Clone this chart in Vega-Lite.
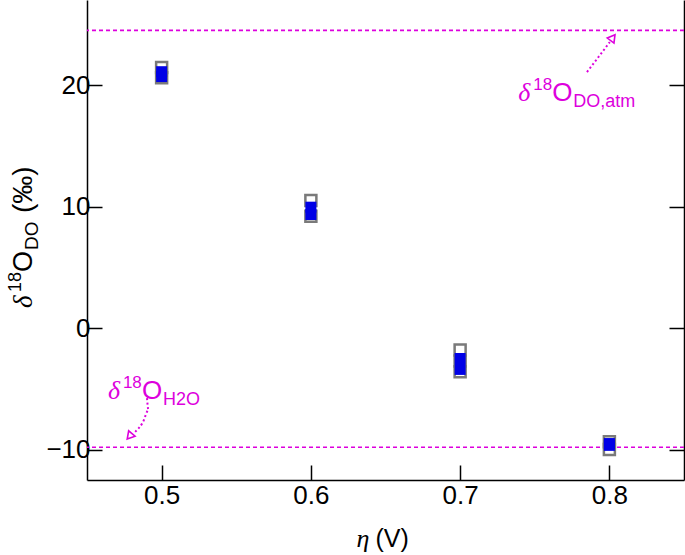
{
  "$schema": "https://vega.github.io/schema/vega-lite/v6.json",
  "width": 597,
  "height": 480,
  "autosize": {"type": "none"},
  "padding": {"left": 87, "top": 0, "right": 1, "bottom": 75},
  "background": "white",
  "config": {
    "view": {"stroke": null},
    "axis": {
      "domainColor": "black", "domainWidth": 1.5,
      "tickColor": "black", "tickWidth": 1.5, "tickSize": -15,
      "labelFont": "Liberation Sans", "labelFontSize": 26, "labelColor": "black",
      "grid": false, "title": null
    }
  },
  "datasets": {
    "grey": [
      {"eta": 0.5, "d": 21.45}, {"eta": 0.5, "d": 20.6},
      {"eta": 0.6, "d": 10.5}, {"eta": 0.6, "d": 9.2},
      {"eta": 0.7, "d": -1.8}, {"eta": 0.7, "d": -2.7}, {"eta": 0.7, "d": -3.6},
      {"eta": 0.8, "d": -9.35}, {"eta": 0.8, "d": -10.0}
    ],
    "blue": [
      {"eta": 0.5, "d": 21.1}, {"eta": 0.5, "d": 20.7},
      {"eta": 0.6, "d": 9.95}, {"eta": 0.6, "d": 9.35},
      {"eta": 0.7, "d": -2.5}, {"eta": 0.7, "d": -3.4},
      {"eta": 0.8, "d": -9.5}, {"eta": 0.8, "d": -9.65}
    ],
    "refs": [{"d": 24.5}, {"d": -9.8}],
    "arrowTop": [
      {"x": 0.785, "y": 21.07, "o": 0}, {"x": 0.7937, "y": 22.47, "o": 1}, {"x": 0.8003, "y": 23.54, "o": 2}
    ],
    "arrowBot": [
      {"x": 0.4902, "y": -5.76, "o": 0}, {"x": 0.4912, "y": -6.75, "o": 1}, {"x": 0.4875, "y": -7.74, "o": 2}, {"x": 0.4821, "y": -8.56, "o": 3}
    ],
    "heads": [
      {"x": 0.8023, "y": 23.9, "ang": 37}, {"x": 0.4785, "y": -8.9, "ang": 220}
    ],
    "one": [{}]
  },
  "resolve": {"axis": {"y": "independent"}},
  "layer": [
    {
      "data": {"name": "refs"},
      "mark": {"type": "rule", "color": "#dd00dd", "strokeWidth": 1.6, "strokeDash": [4, 3]},
      "encoding": {
        "y": {"field": "d", "type": "quantitative",
              "scale": {"domain": [-12.5, 27], "nice": false, "zero": false},
              "axis": {"orient": "left", "values": [-10, 0, 10, 20], "labelPadding": 12}}
      }
    },
    {
      "data": {"name": "grey"},
      "mark": {"type": "point", "shape": "square", "filled": false, "fill": "white", "stroke": "#7a7a7a", "strokeWidth": 2.5, "size": 121, "opacity": 1},
      "encoding": {
        "x": {"field": "eta", "type": "quantitative",
              "scale": {"domain": [0.45, 0.85], "nice": false, "zero": false},
              "axis": {"values": [0.5, 0.6, 0.7, 0.8], "format": ".1f", "labelPadding": 17}},
        "y": {"field": "d", "type": "quantitative",
              "scale": {"domain": [-12.5, 27], "nice": false, "zero": false},
              "axis": null}
      }
    },
    {
      "data": {"name": "blue"},
      "mark": {"type": "point", "shape": "square", "filled": true, "color": "#0000e6", "size": 121, "opacity": 1},
      "encoding": {
        "x": {"field": "eta", "type": "quantitative"},
        "y": {"field": "d", "type": "quantitative",
              "scale": {"domain": [-12.5, 27], "nice": false, "zero": false},
              "axis": {"orient": "right", "labels": false, "values": [-10, 0, 10, 20]}}
      }
    },
    {
      "data": {"name": "arrowTop"},
      "mark": {"type": "line", "color": "#dd00dd", "strokeWidth": 2, "strokeDash": [2, 2.5]},
      "encoding": {
        "x": {"field": "x", "type": "quantitative"},
        "y": {"field": "y", "type": "quantitative", "scale": {"domain": [-12.5, 27], "nice": false, "zero": false}, "axis": null},
        "order": {"field": "o"}
      }
    },
    {
      "data": {"name": "arrowBot"},
      "mark": {"type": "line", "color": "#dd00dd", "strokeWidth": 2, "strokeDash": [2, 2.5], "interpolate": "monotone"},
      "encoding": {
        "x": {"field": "x", "type": "quantitative"},
        "y": {"field": "y", "type": "quantitative", "scale": {"domain": [-12.5, 27], "nice": false, "zero": false}, "axis": null},
        "order": {"field": "o"}
      }
    },
    {
      "data": {"name": "heads"},
      "mark": {"type": "point", "shape": "triangle-up", "filled": false, "stroke": "#dd00dd", "strokeWidth": 1.6, "size": 70, "opacity": 1},
      "encoding": {
        "x": {"field": "x", "type": "quantitative"},
        "y": {"field": "y", "type": "quantitative", "scale": {"domain": [-12.5, 27], "nice": false, "zero": false}, "axis": null},
        "angle": {"field": "ang", "type": "quantitative", "scale": null}
      }
    },
    {
      "data": {"name": "one"},
      "mark": {"type": "text", "text": "δ", "font": "Liberation Serif", "fontStyle": "italic", "fontSize": 26, "align": "left", "baseline": "alphabetic", "color": "#dd00dd"},
      "encoding": {"x": {"datum": 0.739}, "y": {"datum": 18.7, "axis": null}}
    },
    {
      "data": {"name": "one"},
      "mark": {"type": "text", "text": "18", "font": "Liberation Sans", "fontSize": 17, "align": "left", "baseline": "alphabetic", "dx": 15, "dy": -11, "color": "#dd00dd"},
      "encoding": {"x": {"datum": 0.739}, "y": {"datum": 18.7, "axis": null}}
    },
    {
      "data": {"name": "one"},
      "mark": {"type": "text", "text": "O", "font": "Liberation Sans", "fontSize": 26, "align": "left", "baseline": "alphabetic", "dx": 34, "color": "#dd00dd"},
      "encoding": {"x": {"datum": 0.739}, "y": {"datum": 18.7, "axis": null}}
    },
    {
      "data": {"name": "one"},
      "mark": {"type": "text", "text": "DO,atm", "font": "Liberation Sans", "fontSize": 18, "align": "left", "baseline": "alphabetic", "dx": 55, "dy": 6, "color": "#dd00dd"},
      "encoding": {"x": {"datum": 0.739}, "y": {"datum": 18.7, "axis": null}}
    },
    {
      "data": {"name": "one"},
      "mark": {"type": "text", "text": "δ", "font": "Liberation Serif", "fontStyle": "italic", "fontSize": 26, "align": "left", "baseline": "alphabetic", "color": "#dd00dd"},
      "encoding": {"x": {"datum": 0.464}, "y": {"datum": -5.84, "axis": null}}
    },
    {
      "data": {"name": "one"},
      "mark": {"type": "text", "text": "18", "font": "Liberation Sans", "fontSize": 17, "align": "left", "baseline": "alphabetic", "dx": 15, "dy": -11, "color": "#dd00dd"},
      "encoding": {"x": {"datum": 0.464}, "y": {"datum": -5.84, "axis": null}}
    },
    {
      "data": {"name": "one"},
      "mark": {"type": "text", "text": "O", "font": "Liberation Sans", "fontSize": 26, "align": "left", "baseline": "alphabetic", "dx": 34, "color": "#dd00dd"},
      "encoding": {"x": {"datum": 0.464}, "y": {"datum": -5.84, "axis": null}}
    },
    {
      "data": {"name": "one"},
      "mark": {"type": "text", "text": "H2O", "font": "Liberation Sans", "fontSize": 18, "align": "left", "baseline": "alphabetic", "dx": 55, "dy": 6, "color": "#dd00dd"},
      "encoding": {"x": {"datum": 0.464}, "y": {"datum": -5.84, "axis": null}}
    },
    {
      "data": {"name": "one"},
      "mark": {"type": "text", "text": "δ", "font": "Liberation Serif", "fontStyle": "italic", "fontSize": 27, "align": "left", "baseline": "alphabetic", "angle": 270, "dy": -55, "color": "black"},
      "encoding": {"x": {"datum": 0.45}, "y": {"datum": 1.65, "axis": null}}
    },
    {
      "data": {"name": "one"},
      "mark": {"type": "text", "text": "18", "font": "Liberation Sans", "fontSize": 18, "align": "left", "baseline": "alphabetic", "angle": 270, "dx": 16, "dy": -66, "color": "black"},
      "encoding": {"x": {"datum": 0.45}, "y": {"datum": 1.65, "axis": null}}
    },
    {
      "data": {"name": "one"},
      "mark": {"type": "text", "text": "O", "font": "Liberation Sans", "fontSize": 27, "align": "left", "baseline": "alphabetic", "angle": 270, "dx": 36, "dy": -55, "color": "black"},
      "encoding": {"x": {"datum": 0.45}, "y": {"datum": 1.65, "axis": null}}
    },
    {
      "data": {"name": "one"},
      "mark": {"type": "text", "text": "DO", "font": "Liberation Sans", "fontSize": 19, "align": "left", "baseline": "alphabetic", "angle": 270, "dx": 58, "dy": -49, "color": "black"},
      "encoding": {"x": {"datum": 0.45}, "y": {"datum": 1.65, "axis": null}}
    },
    {
      "data": {"name": "one"},
      "mark": {"type": "text", "text": "(‰)", "font": "Liberation Sans", "fontSize": 28, "align": "left", "baseline": "alphabetic", "angle": 270, "dx": 95, "dy": -55, "color": "black"},
      "encoding": {"x": {"datum": 0.45}, "y": {"datum": 1.65, "axis": null}}
    },
    {
      "data": {"name": "one"},
      "mark": {"type": "text", "text": "η", "font": "Liberation Serif", "fontStyle": "italic", "fontSize": 26, "align": "right", "baseline": "alphabetic", "dx": -16, "dy": 67, "color": "black"},
      "encoding": {"x": {"datum": 0.65}, "y": {"datum": -12.5, "axis": null}}
    },
    {
      "data": {"name": "one"},
      "mark": {"type": "text", "text": "(V)", "font": "Liberation Sans", "fontSize": 25, "align": "left", "baseline": "alphabetic", "dx": -10, "dy": 67, "color": "black"},
      "encoding": {"x": {"datum": 0.65}, "y": {"datum": -12.5, "axis": null}}
    }
  ]
}
